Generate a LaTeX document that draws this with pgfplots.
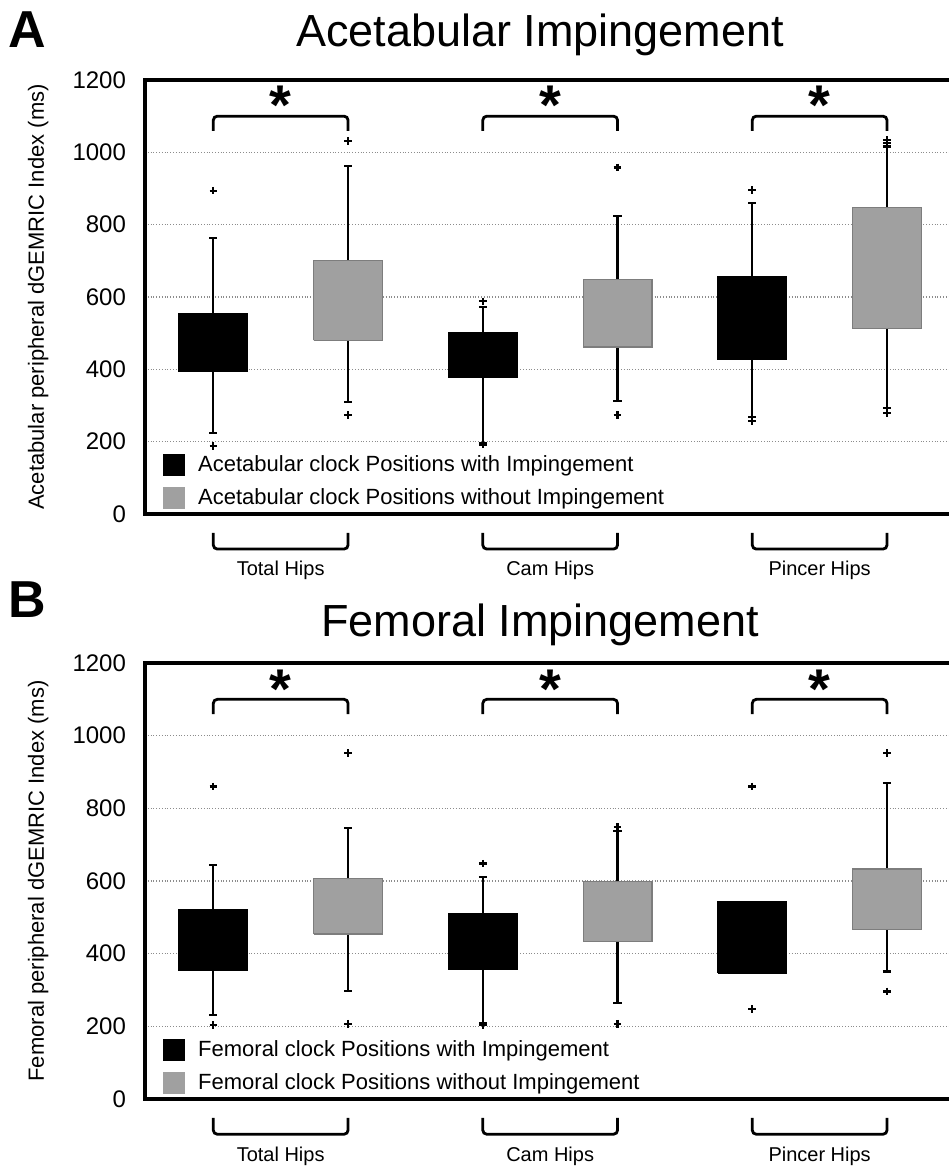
\documentclass[border=0pt]{standalone}
\usepackage{fontspec}
\setmainfont{Liberation Sans}
\usepackage{pgfplots}
\pgfplotsset{compat=1.18}
\definecolor{boxgray}{RGB}{160,160,160}
\definecolor{boxedge}{RGB}{125,125,125}
\pgfplotsset{
  panel/.style={
    scale only axis, width=402pt,
    xmin=0.493, xmax=6.46, ymin=0, ymax=1200,
    ytick={0,200,...,1200}, xtick=\empty,
    major tick length=0pt,
    axis line style={draw=none},
    ymajorgrids, grid style={densely dotted, black!45, line width=0.6pt},
    yticklabel style={font=\fontsize{12}{14}\selectfont, xshift=-6pt},
    /pgf/number format/assume math mode=true,
    /pgf/number format/1000 sep={},
    every axis y label/.style={at={(axis description cs:-0.133,0.5)}, rotate=90, anchor=center, font=\fontsize{11}{13}\selectfont},
    clip=false,
    legend style={at={(0,0)}, anchor=south west, xshift=6pt, yshift=-1pt,
      draw=none, fill=none, font=\fontsize{11}{13}\selectfont, row sep=3pt,
      /tikz/every odd column/.append style={column sep=4.5pt}},
    legend cell align=left,
  },
  blk/.style={draw=black, fill=black, line width=0.6pt, forget plot},
  gry/.style={draw=boxedge, fill=boxgray, line width=0.6pt, forget plot},
  wsk/.style={black, line width=1.1pt, forget plot},
  outl/.style={only marks, mark=+, mark size=1.9pt, mark options={black, line width=1.1pt, solid}, forget plot},
}
% #1 centre, #2 box left, #3 box right, #4 cap left, #5 cap right, #6 lower whisker, #7 lower quartile, #8 upper quartile, #9 upper whisker
\newcommand{\whisk}[9]{%
  \addplot[wsk] coordinates {(#1,#6) (#1,#7)};
  \addplot[wsk] coordinates {(#1,#8) (#1,#9)};
  \addplot[wsk] coordinates {(#4,#6) (#5,#6)};
  \addplot[wsk] coordinates {(#4,#9) (#5,#9)};}
\newcommand{\bxk}[9]{\whisk{#1}{#2}{#3}{#4}{#5}{#6}{#7}{#8}{#9}%
  \addplot[blk] coordinates {(#2,#7) (#3,#7) (#3,#8) (#2,#8) (#2,#7)};}
\newcommand{\bxg}[9]{\whisk{#1}{#2}{#3}{#4}{#5}{#6}{#7}{#8}{#9}%
  \addplot[gry] coordinates {(#2,#7) (#3,#7) (#3,#8) (#2,#8) (#2,#7)};}
\newcommand{\frameit}{%
  \draw[line width=1.7pt] (rel axis cs:1,1) -- (rel axis cs:0,1) -- (rel axis cs:0,0) -- (rel axis cs:1,0);}
\newcommand{\sigbracket}[3]{%
  \draw[line width=1.4pt, rounded corners=2pt] (axis cs:#1,1059) -- (axis cs:#1,1100) -- (axis cs:#2,1100) -- (axis cs:#2,1059);
  \node[font=\bfseries\fontsize{28}{28}\selectfont, anchor=base] at (axis cs:#3,1076) {*};}
\newcommand{\grpbracket}[4]{%
  \draw[line width=1.4pt, rounded corners=2pt] (axis cs:#1,-52) -- (axis cs:#1,-97) -- (axis cs:#2,-97) -- (axis cs:#2,-52);
  \node[font=\fontsize{10}{12}\selectfont] at (axis cs:#3,-157) {#4};}
\begin{document}
\begin{tikzpicture}
\useasboundingbox (0,0) rectangle (474.5pt,584.5pt);
\node[font=\bfseries\fontsize{26}{26}\selectfont] at (13.5pt,569.5pt) {A};
\node[font=\fontsize{22.5}{24}\selectfont] at (270pt,567pt) {Acetabular Impingement};
\node[font=\bfseries\fontsize{26}{26}\selectfont] at (13.5pt,284.5pt) {B};
\node[font=\fontsize{22.5}{24}\selectfont] at (270pt,272pt) {Femoral Impingement};

\begin{axis}[panel, height=217pt, at={(72.5pt,327.5pt)}, anchor=south west,
  ylabel={Acetabular peripheral dGEMRIC Index (ms)}]
\addlegendimage{legend image code/.code={\fill[black] (0pt,-5.25pt) rectangle (10.5pt,5.25pt);}}
\addlegendentry{Acetabular clock Positions with Impingement}
\addlegendimage{legend image code/.code={\fill[boxgray] (0pt,-5.25pt) rectangle (10.5pt,5.25pt);}}
\addlegendentry{Acetabular clock Positions without Impingement}
\bxk{1}{0.745}{1.255}{0.97}{1.03}{223}{394}{555}{763}
\bxg{2}{1.745}{2.255}{1.97}{2.03}{310}{480}{700}{962}
\bxk{3}{2.745}{3.255}{2.97}{3.03}{195}{379}{501}{572}
\bxg{4}{3.745}{4.255}{3.97}{4.03}{312}{462}{649}{823}
\bxk{5}{4.745}{5.255}{4.97}{5.03}{268}{427}{657}{859}
\bxg{6}{5.745}{6.255}{5.97}{6.03}{294}{512}{847}{1016}
\addplot[outl] coordinates {(1,894) (1,188) (2,1032) (2,273) (3,588) (3,192) (4,958) (4,273) (5,896) (5,257) (6,1034) (6,1025) (6,280)};
\frameit
\sigbracket{1}{2}{1.5}\sigbracket{3}{4}{3.5}\sigbracket{5}{6}{5.5}
\grpbracket{1}{2}{1.5}{Total Hips}\grpbracket{3}{4}{3.5}{Cam Hips}\grpbracket{5}{6}{5.5}{Pincer Hips}
\end{axis}

\begin{axis}[panel, height=218pt, at={(72.5pt,35pt)}, anchor=south west,
  ylabel={Femoral peripheral dGEMRIC Index (ms)}]
\addlegendimage{legend image code/.code={\fill[black] (0pt,-5.25pt) rectangle (10.5pt,5.25pt);}}
\addlegendentry{Femoral clock Positions with Impingement}
\addlegendimage{legend image code/.code={\fill[boxgray] (0pt,-5.25pt) rectangle (10.5pt,5.25pt);}}
\addlegendentry{Femoral clock Positions without Impingement}
\bxk{1}{0.745}{1.255}{0.97}{1.03}{232}{353}{521}{645}
\bxg{2}{1.745}{2.255}{1.97}{2.03}{298}{454}{606}{746}
\bxk{3}{2.745}{3.255}{2.97}{3.03}{209}{356}{511}{611}
\bxg{4}{3.745}{4.255}{3.97}{4.03}{264}{434}{599}{737}
\bxk{5}{4.745}{5.255}{4.97}{5.03}{347}{347}{542}{542}
\bxg{6}{5.745}{6.255}{5.97}{6.03}{351}{466}{633}{870}
\addplot[outl] coordinates {(1,860) (1,204) (2,952) (2,207) (3,648) (3,203) (4,749) (4,207) (5,860) (5,248) (6,952) (6,296)};
\frameit
\sigbracket{1}{2}{1.5}\sigbracket{3}{4}{3.5}\sigbracket{5}{6}{5.5}
\grpbracket{1}{2}{1.5}{Total Hips}\grpbracket{3}{4}{3.5}{Cam Hips}\grpbracket{5}{6}{5.5}{Pincer Hips}
\end{axis}
\end{tikzpicture}
\end{document}
